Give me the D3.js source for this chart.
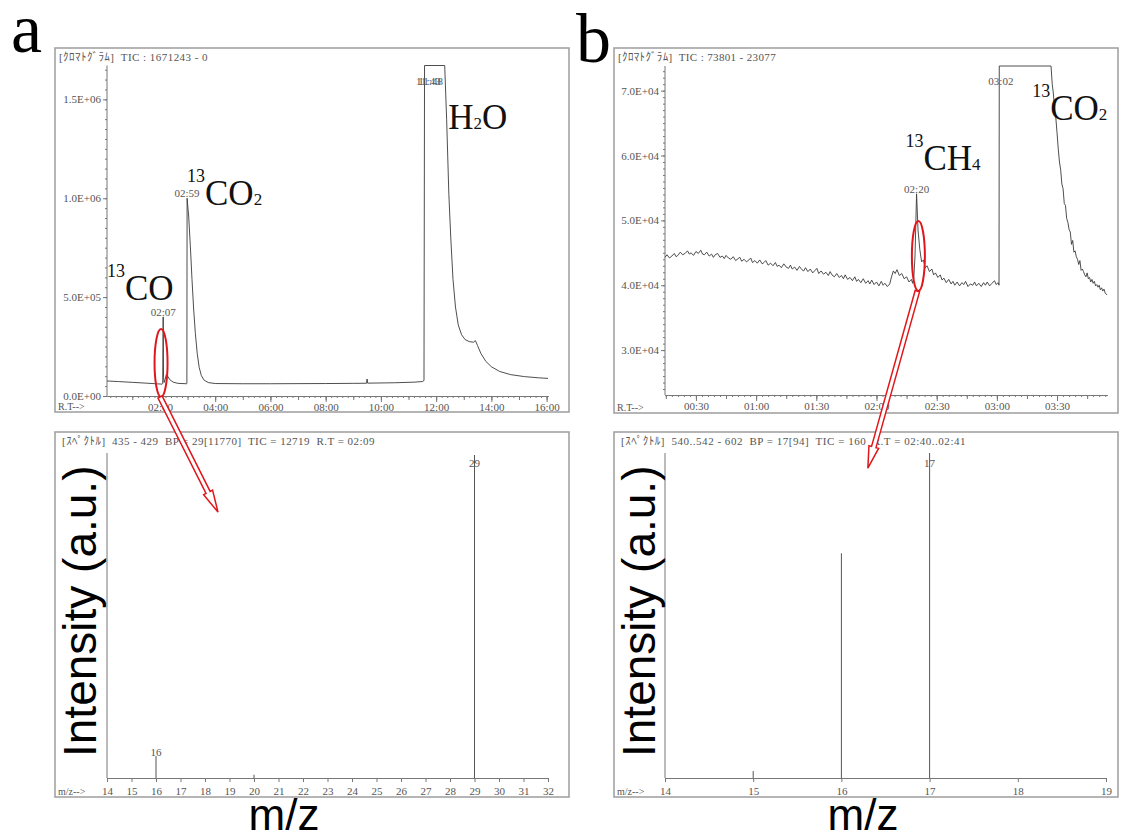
<!DOCTYPE html>
<html>
<head>
<meta charset="utf-8">
<script src="https://cdn.jsdelivr.net/npm/d3@7/dist/d3.min.js"></script>
<style>
  body { margin: 0; background: #fff; }
  svg text { font-family: "Liberation Serif", "Noto Sans CJK JP", serif; }
  svg text.sans { font-family: "Liberation Sans", Arial, sans-serif; }
</style>
</head>
<body>
<div id="chart"></div>
<script>
// ---- data ----
// panel a, chromatogram: [retention time (min), TIC]
const chromA = [
  [0.083, 76000], [0.5, 73000], [1.0, 69000], [1.5, 65000], [1.9, 61500], [2.08, 60000],
  [2.10, 64000], [2.117, 400000], [2.13, 95000], [2.15, 68000], [2.19, 85000], [2.23, 108000],
  [2.28, 100000], [2.36, 82000], [2.48, 70000], [2.65, 64000], [2.96, 62000], [2.975, 63000],
  [2.983, 1000000], [3.04, 910000], [3.10, 760000], [3.16, 590000], [3.22, 440000], [3.28, 320000],
  [3.35, 215000], [3.42, 145000], [3.50, 103000], [3.60, 80000], [3.75, 68000], [4.0, 63000],
  [5.0, 62000], [6.0, 62000], [7.0, 62500], [8.0, 63000], [9.0, 64000], [9.48, 64500],
  [9.50, 86000], [9.52, 65000], [10.5, 67000], [11.2, 70000], [11.5, 73000], [11.56, 78000],
  [11.58, 1671243], [12.31, 1671243], [12.38, 1400000], [12.46, 1020000], [12.53, 800000],
  [12.61, 590000], [12.70, 450000], [12.80, 360000], [12.92, 310000], [13.05, 285000],
  [13.2, 275000], [13.35, 272000], [13.42, 280000], [13.5, 255000], [13.62, 215000],
  [13.8, 175000], [14.0, 148000], [14.3, 124000], [14.7, 108000], [15.2, 98000],
  [15.7, 92000], [16.05, 89000]
];
// panel b, chromatogram (noisy baseline)
const chromB = [
  [0.243, 44300], [0.26, 44700], [0.28, 44200], [0.30, 44500], [0.32, 44900], [0.335, 44400],
  [0.35, 44600], [0.37, 45100], [0.39, 44700], [0.41, 44900], [0.43, 45300], [0.445, 44800],
  [0.46, 45000], [0.48, 44600], [0.50, 45200], [0.52, 44900], [0.54, 45400], [0.555, 44800],
  [0.57, 44700], [0.59, 45100], [0.61, 44500], [0.63, 44800], [0.645, 44300], [0.66, 44700],
  [0.68, 44900], [0.70, 44300], [0.72, 44500], [0.735, 44100], [0.75, 44600], [0.77, 44200],
  [0.79, 44000], [0.81, 44400], [0.83, 43800], [0.85, 44100], [0.865, 44300], [0.88, 43700],
  [0.90, 44000], [0.92, 43600], [0.94, 43900], [0.955, 44200], [0.97, 43500], [0.99, 43800],
  [1.01, 43400], [1.03, 43900], [1.05, 43300], [1.065, 43500], [1.08, 43800], [1.10, 43100],
  [1.12, 43400], [1.14, 43000], [1.16, 43500], [1.175, 42900], [1.19, 43100], [1.21, 42700],
  [1.23, 43300], [1.25, 42800], [1.27, 42600], [1.285, 43100], [1.30, 42500], [1.32, 42800],
  [1.34, 42300], [1.36, 42900], [1.38, 42400], [1.395, 42200], [1.41, 42700], [1.43, 42100],
  [1.45, 42500], [1.47, 41900], [1.49, 42300], [1.505, 42600], [1.52, 41800], [1.54, 42200],
  [1.56, 41700], [1.58, 42000], [1.60, 41500], [1.615, 42100], [1.63, 41600], [1.65, 41300],
  [1.67, 41800], [1.69, 41200], [1.71, 41500], [1.725, 41000], [1.74, 41600], [1.76, 40900],
  [1.78, 41200], [1.80, 40700], [1.82, 41300], [1.835, 40600], [1.85, 40900], [1.87, 40400],
  [1.89, 41000], [1.91, 40300], [1.93, 40700], [1.945, 40200], [1.96, 40800], [1.98, 40100],
  [2.00, 40500], [2.02, 39900], [2.04, 40600], [2.055, 40000], [2.07, 40300], [2.09, 39800],
  [2.11, 40200], [2.125, 41300], [2.14, 42200], [2.155, 41800], [2.17, 42400], [2.19, 41500],
  [2.21, 41800], [2.23, 41000], [2.25, 41300], [2.27, 40500], [2.29, 40900], [2.30, 40300],
  [2.31, 41200], [2.32, 44500], [2.333, 54100], [2.345, 48500], [2.36, 45500], [2.375, 43600],
  [2.39, 43900], [2.405, 42700], [2.42, 43000], [2.44, 42100], [2.46, 42500], [2.475, 41600],
  [2.49, 41900], [2.51, 41200], [2.53, 41600], [2.545, 40800], [2.56, 41100], [2.58, 40400],
  [2.60, 40900], [2.62, 40200], [2.635, 40600], [2.65, 40000], [2.67, 40500], [2.69, 39900],
  [2.71, 40400], [2.725, 40100], [2.74, 40600], [2.76, 39800], [2.78, 40200], [2.80, 40000],
  [2.815, 40500], [2.83, 39900], [2.85, 40300], [2.87, 39800], [2.89, 40400], [2.905, 40000],
  [2.92, 40500], [2.94, 39900], [2.96, 40300], [2.98, 40700], [2.995, 40100], [3.01, 40400],
  [3.018, 40000], [3.02, 73801], [3.45, 73801], [3.46, 71000], [3.47, 69500], [3.48, 67000],
  [3.49, 65800], [3.50, 63500], [3.51, 61000], [3.52, 59000], [3.53, 57800], [3.54, 55600],
  [3.55, 54900], [3.56, 52600], [3.57, 52300], [3.58, 50300], [3.59, 49700], [3.60, 48600],
  [3.61, 48200], [3.62, 46300], [3.63, 46900], [3.64, 45100], [3.65, 45300], [3.66, 44400],
  [3.67, 44000], [3.68, 43200], [3.69, 43800], [3.70, 42300], [3.71, 42500], [3.72, 42100],
  [3.73, 41600], [3.74, 41300], [3.75, 41900], [3.76, 41000], [3.77, 41200], [3.78, 40500],
  [3.79, 40900], [3.80, 40300], [3.81, 40600], [3.82, 39900], [3.83, 40100], [3.84, 39700],
  [3.85, 40000], [3.86, 39300], [3.87, 39600], [3.88, 39100], [3.89, 39400], [3.90, 38800],
  [3.915, 38500]
];

// spectra
const mzA = [16, 20, 29];
const intA = [800, 120, 11770];
const mzLabelA = [16, 29];
const mzB = [15, 16, 17];
const intB = [2, 65, 94];
const mzLabelB = [17];

// tick labels
const yTickLabelsA = ["0.0E+00", "5.0E+05", "1.0E+06", "1.5E+06"];
const xTickLabelsA = ["02:00", "04:00", "06:00", "08:00", "10:00", "12:00", "14:00", "16:00"];
const yTickLabelsB = ["3.0E+04", "4.0E+04", "5.0E+04", "6.0E+04", "7.0E+04"];
const xTickLabelsB = ["00:30", "01:00", "01:30", "02:00", "02:30", "03:00", "03:30"];
const mzTicksA = d3.range(14, 33);
const mzTicksB = d3.range(14, 20);

// retention-time labels printed over the peaks
const peakRtA = ["02:07", "02:59", "11:43", "11:48"];
const peakRtB = ["02:20", "03:02"];

// headers
const headerA = "[ｸﾛﾏﾄｸﾞﾗﾑ]  TIC : 1671243 - 0";
const headerB = "[ｸﾛﾏﾄｸﾞﾗﾑ]  TIC : 73801 - 23077";
const specHeaderA = "[ｽﾍﾟｸﾄﾙ]  435 - 429  BP = 29[11770]  TIC = 12719  R.T = 02:09";
const specHeaderB = "[ｽﾍﾟｸﾄﾙ]  540..542 - 602  BP = 17[94]  TIC = 160  R.T = 02:40..02:41";

const toMin = s => { const p = s.split(":"); return +p[0] + +p[1] / 60; };

// value of a trace at time t (straight line between stored points)
function valueAt(data, t) {
  const i = d3.bisector(d => d[0]).left(data, t);
  if (i <= 0) return data[0][1];
  if (i >= data.length) return data[data.length - 1][1];
  const a = data[i - 1], b = data[i];
  return a[1] + (b[1] - a[1]) * (t - a[0]) / (b[0] - a[0]);
}

// ---- svg ----
const svg = d3.select("#chart").append("svg")
  .attr("width", 1121)
  .attr("height", 839);

const grey = "#555";
const axisGrey = "#777";

function frame(x0, y0, x1, y1) {
  svg.append("rect")
    .attr("x", x0).attr("y", y0)
    .attr("width", x1 - x0).attr("height", y1 - y0)
    .attr("fill", "none")
    .attr("stroke", "#a3a3a3")
    .attr("stroke-width", 1.6);
}

// small grey print; if a width is given, spread the letters to fill it
function smallText(x, y, str, len) {
  const t = svg.append("text")
    .attr("x", x).attr("y", y)
    .attr("font-size", 11)
    .attr("fill", grey)
    .style("white-space", "pre")
    .text(str);
  if (len) {
    const natural = t.node().getComputedTextLength();
    const n = [...str].length;
    t.style("letter-spacing", `${(len - natural) / (n - 1)}px`);
  }
  return t;
}

function styleAxis(g) {
  g.select(".domain").attr("stroke", axisGrey);
  g.selectAll(".tick line").attr("stroke", axisGrey);
  g.selectAll(".tick text")
    .attr("fill", grey)
    .attr("font-size", 11);
}

// chromatogram panel
function chromPanel(o) {
  frame(o.box[0], o.box[1], o.box[2], o.box[3]);
  smallText(o.box[0] + 4, o.box[1] + 13, o.header, o.headerLen);
  smallText(o.box[0] + 3, o.box[3] - 2, "R.T-->").attr("font-size", 10);

  const x = o.x, y = o.y;
  const y0 = y.range()[0];

  // minor / medium / major ticks on x
  [[o.xMinor, 2], [o.xMid, 4]].forEach(([vals, size]) => {
    svg.append("g")
      .attr("transform", `translate(0,${y0})`)
      .call(d3.axisBottom(x).tickValues(vals).tickSize(size).tickSizeOuter(0).tickFormat(""))
      .call(styleAxis);
  });
  svg.append("g")
    .attr("transform", `translate(0,${y0})`)
    .call(d3.axisBottom(x)
      .tickValues(o.xLabels.map(toMin))
      .tickSize(6).tickSizeOuter(0).tickPadding(1)
      .tickFormat((d, i) => o.xLabels[i]))
    .call(styleAxis);

  // y ticks
  const xl = x.range()[0];
  svg.append("g")
    .attr("transform", `translate(${xl},0)`)
    .call(d3.axisLeft(y).tickValues(o.yMinor).tickSize(2).tickSizeOuter(0).tickFormat(""))
    .call(styleAxis)
    .select(".domain").attr("d", `M0,${y.range()[1]}V${y0}`);
  svg.append("g")
    .attr("transform", `translate(${xl},0)`)
    .call(d3.axisLeft(y)
      .tickValues(o.yLabels.map(Number))
      .tickSize(4).tickSizeOuter(0).tickPadding(2)
      .tickFormat((d, i) => o.yLabels[i]))
    .call(styleAxis)
    .select(".domain").remove();

  // trace
  svg.append("path")
    .datum(o.data)
    .attr("fill", "none")
    .attr("stroke", "#3a3a3a")
    .attr("stroke-width", 0.9)
    .attr("d", d3.line().x(d => x(d[0])).y(d => y(d[1])));

  // retention time labels
  const top = y.domain()[1];
  o.peaks.forEach(rt => {
    const t = toMin(rt);
    const near = o.data.filter(d => Math.abs(d[0] - t) < 0.03).map(d => d[1]);
    const v = d3.max(near.concat([valueAt(o.data, t)]));
    const saturated = v >= top;
    svg.append("text")
      .attr("x", x(t))
      .attr("y", saturated ? y(top) + 19 : y(v) - 1)
      .attr("text-anchor", "middle")
      .attr("font-size", 11)
      .attr("fill", grey)
      .text(rt);
  });
}

// spectrum panel
function specPanel(o) {
  frame(o.box[0], o.box[1], o.box[2], o.box[3]);
  smallText(o.box[0] + 7, o.box[1] + 13, o.header, o.headerLen);
  smallText(o.box[0] + 3, o.box[3] - 2, "m/z-->").attr("font-size", 10);

  const x = o.x, y = o.y;
  const y0 = y.range()[0];

  svg.append("g")
    .attr("transform", `translate(0,${y0})`)
    .call(d3.axisBottom(x).tickValues(o.ticks).tickSize(4).tickSizeOuter(0).tickPadding(5).tickFormat(d3.format("d")))
    .call(styleAxis);

  // vertical axis line only
  svg.append("line")
    .attr("x1", x.range()[0]).attr("x2", x.range()[0])
    .attr("y1", o.box[1] + 21).attr("y2", y0)
    .attr("stroke", axisGrey);

  svg.selectAll(null)
    .data(o.mz)
    .enter()
    .append("line")
    .attr("x1", d => x(d)).attr("x2", d => x(d))
    .attr("y1", y0)
    .attr("y2", (d, i) => y(o.intensity[i]))
    .attr("stroke", "#555")
    .attr("stroke-width", 1);

  o.labels.forEach(m => {
    const v = o.intensity[o.mz.indexOf(m)];
    svg.append("text")
      .attr("x", x(m))
      .attr("y", Math.max(y(v), o.box[1] + 35))
      .attr("text-anchor", "middle")
      .attr("font-size", 11)
      .attr("fill", grey)
      .text(m);
  });
}

// ---- scales ----
const xA = d3.scaleLinear().domain([0.083, 16.05]).range([107, 548]);
const yA = d3.scaleLinear().domain([0, 1671243]).range([396, 65.5]);
const xB = d3.scaleLinear().domain([0.243, 3.915]).range([665, 1107]);
const yB = d3.scaleLinear().domain([23077, 73801]).range([395, 66]);
const xSA = d3.scaleLinear().domain([14, 32]).range([107, 548]);
const ySA = d3.scaleLinear().domain([0, 11770]).range([778, 455]);
const xSB = d3.scaleLinear().domain([14, 19]).range([665, 1106]);
const ySB = d3.scaleLinear().domain([0, 94]).range([778, 453]);

chromPanel({
  box: [55, 48, 569, 412], x: xA, y: yA, data: chromA,
  header: headerA, headerLen: 149,
  xLabels: xTickLabelsA, xMid: d3.range(1, 17), xMinor: d3.range(0.2, 16.05, 0.2),
  yLabels: yTickLabelsA, yMinor: d3.range(0, 1671243, 50000),
  peaks: peakRtA
});
chromPanel({
  box: [614, 48, 1118, 413], x: xB, y: yB, data: chromB,
  header: headerB, headerLen: 158,
  xLabels: xTickLabelsB, xMid: d3.range(0.25, 3.92, 0.25), xMinor: d3.range(0.25, 3.92, 0.05),
  yLabels: yTickLabelsB, yMinor: d3.range(24000, 73801, 1000),
  peaks: peakRtB
});
specPanel({
  box: [55, 432, 569, 797], x: xSA, y: ySA,
  header: specHeaderA, headerLen: 313,
  ticks: mzTicksA, mz: mzA, intensity: intA, labels: mzLabelA
});
specPanel({
  box: [614, 432, 1118, 797], x: xSB, y: ySB,
  header: specHeaderB, headerLen: 345,
  ticks: mzTicksB, mz: mzB, intensity: intB, labels: mzLabelB
});

// ---- compound names ----
function compound(x, y, sup, main, sub) {
  const t = svg.append("text")
    .attr("x", x).attr("y", y)
    .attr("fill", "#111");
  t.append("tspan").attr("font-size", 18).attr("dy", -23).text(sup);
  t.append("tspan").attr("font-size", 35).attr("dy", 23).text(main);
  if (sub) t.append("tspan").attr("font-size", 17).text(sub);
}
compound(xA(0.083), yA(485000), "13", "CO");
compound(xA(2.98), yA(965000), "13", "CO", "2");
svg.append("text")
  .attr("x", xA(12.44)).attr("y", yA(1349000))
  .attr("fill", "#111")
  .call(t => {
    t.append("tspan").attr("font-size", 35).text("H");
    t.append("tspan").attr("font-size", 17).text("2");
    t.append("tspan").attr("font-size", 35).text("O");
  });
compound(xB(2.24), yB(57700), "13", "CH", "4");
compound(xB(3.293), yB(65400), "13", "CO", "2");

// ---- panel letters and axis titles ----
svg.append("text").attr("x", 11).attr("y", 52).attr("font-size", 70).text("a");
svg.append("text").attr("x", 576).attr("y", 62).attr("font-size", 70).text("b");

[[96, 757], [655, 757]].forEach(([x, y]) => {
  svg.append("text")
    .attr("class", "sans")
    .attr("transform", `translate(${x},${y}) rotate(-90)`)
    .attr("text-anchor", "start")
    .attr("font-size", 46)
    .text("Intensity (a.u.)");
});
[[284, 830], [863, 830]].forEach(([x, y]) => {
  svg.append("text")
    .attr("class", "sans")
    .attr("x", x).attr("y", y)
    .attr("text-anchor", "middle")
    .attr("font-size", 44)
    .text("m/z");
});

// ---- red call-outs: ellipse on the peak, hollow arrow to its spectrum ----
function callout(cx, cy, rx, ry, tipX, tipY) {
  svg.append("ellipse")
    .attr("cx", cx).attr("cy", cy).attr("rx", rx).attr("ry", ry)
    .attr("fill", "none").attr("stroke", "#e0161b").attr("stroke-width", 2);
  const sx = cx - 1, sy = cy + ry;
  const len = Math.hypot(tipX - sx, tipY - sy);
  const ang = Math.atan2(tipY - sy, tipX - sx) * 180 / Math.PI;
  const w = 2.3, hw = 5, hl = 22;
  const pts = [[0, -w], [len - hl, -w], [len - hl, -hw], [len, 0], [len - hl, hw], [len - hl, w], [0, w]];
  svg.append("polygon")
    .attr("points", pts.map(p => p.join(",")).join(" "))
    .attr("transform", `translate(${sx},${sy}) rotate(${ang})`)
    .attr("fill", "#fff").attr("stroke", "#e0161b").attr("stroke-width", 1.5)
    .attr("stroke-linejoin", "miter");
}
callout(xA(2.04), yA(167000), 6.5, 34, xSA(18.53), ySA(9690));
callout(xB(2.348), yB(44500), 6.5, 35, xSB(16.30), ySB(89.6));
</script>
</body>
</html>
